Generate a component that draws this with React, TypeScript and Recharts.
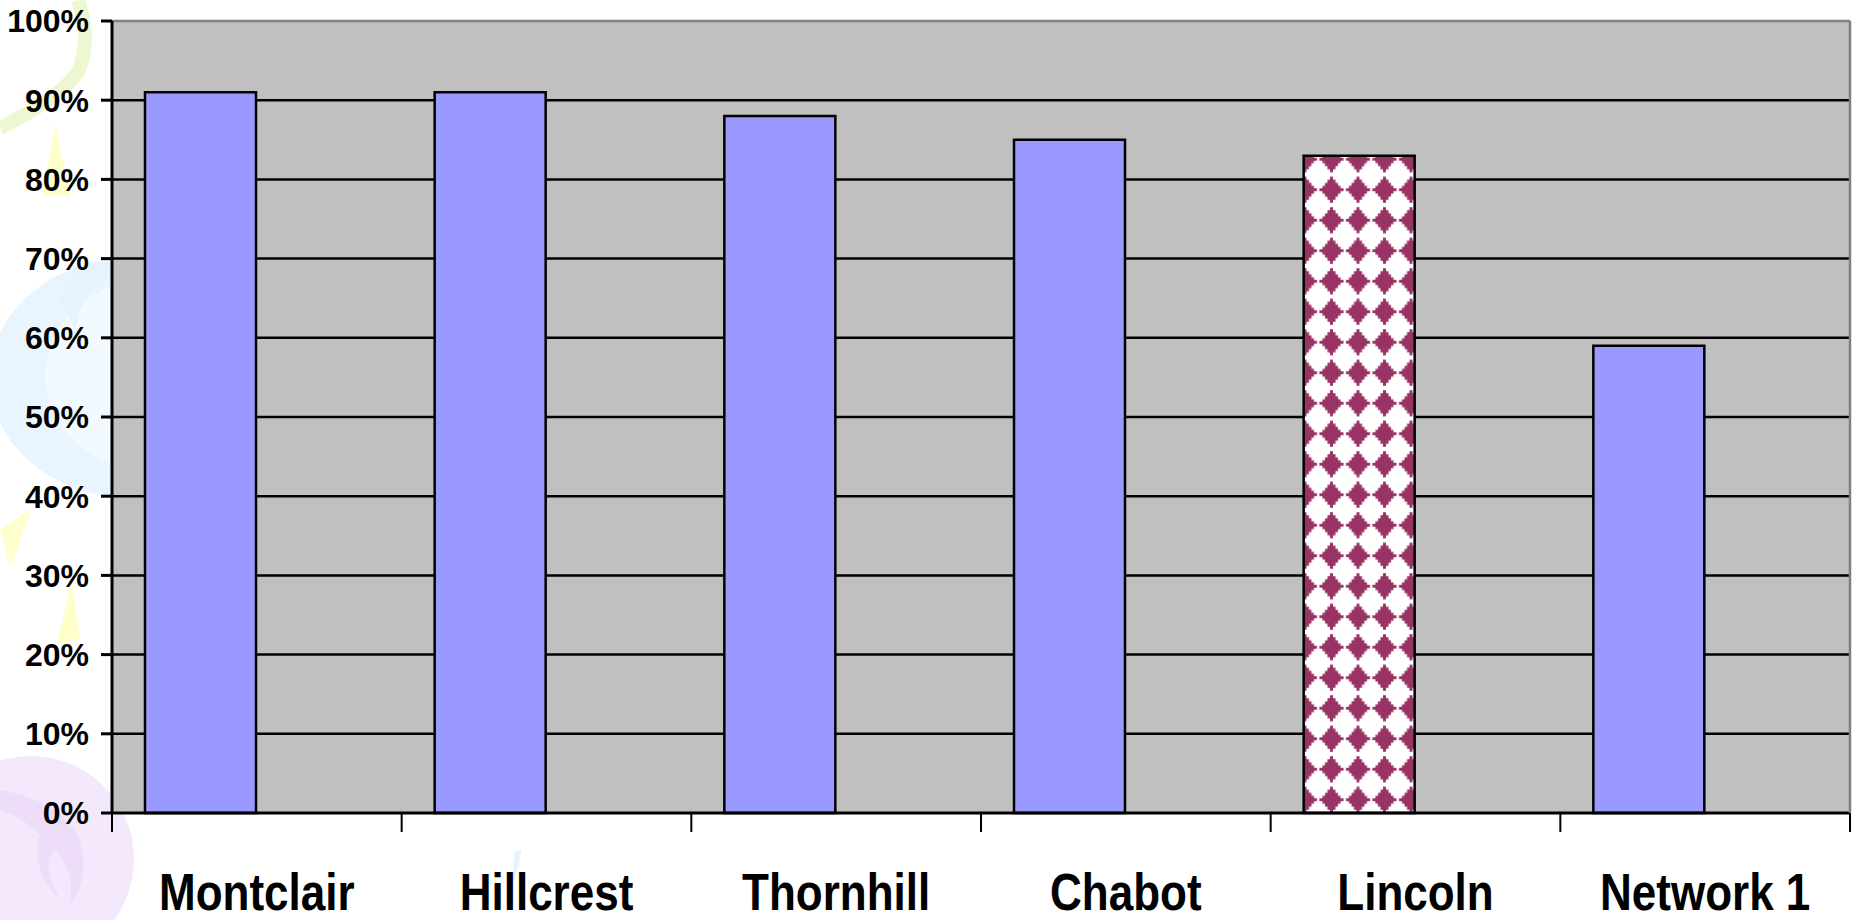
import React from 'react';
import { BarChart, Bar, XAxis, YAxis, CartesianGrid, Cell } from 'recharts';

// ---- data ----
const categories = ['Montclair', 'Hillcrest', 'Thornhill', 'Chabot', 'Lincoln', 'Network 1'];
const values = [91, 91, 88, 85, 83, 59];
const yTicks = [0, 10, 20, 30, 40, 50, 60, 70, 80, 90, 100];
const gridValues = [10, 20, 30, 40, 50, 60, 70, 80, 90];
const highlighted = 'Lincoln';

const data = categories.map((name, i) => ({ name, value: values[i] }));

const FONT = '"Liberation Sans", Arial, sans-serif';
const W = 1853;
const H = 920;

const XTick = (props: any) => {
  const { x, y, payload, index } = props;
  const half = payload && typeof payload.offset === 'number' ? payload.offset : 0;
  return (
    <g>
      <line x1={x - half} x2={x - half} y1={y} y2={y + 19} stroke="#000" strokeWidth={2} />
      {index === categories.length - 1 && (
        <line x1={x + half} x2={x + half} y1={y} y2={y + 19} stroke="#000" strokeWidth={2} />
      )}
      <text
        transform={`translate(${x},${y + 97}) scale(1,1.16)`}
        textAnchor="middle"
        fontSize={44}
        fontWeight={700}
        fontFamily={FONT}
        fill="#000"
      >
        {payload.value}
      </text>
    </g>
  );
};

const diamond =
  'M-1.5,-13 L1.5,-13 L1.5,-10 L4,-10 L4,-7 L6.5,-7 L6.5,-4 L9,-4 L9,-1.5 L12,-1.5 L12,1.5 L9,1.5 L9,4 L6.5,4 L6.5,7 L4,7 L4,10 L1.5,10 L1.5,13 L-1.5,13 L-1.5,10 L-4,10 L-4,7 L-6.5,7 L-6.5,4 L-9,4 L-9,1.5 L-12,1.5 L-12,-1.5 L-9,-1.5 L-9,-4 L-6.5,-4 L-6.5,-7 L-4,-7 L-4,-10 L-1.5,-10 Z';

const Decor = () => (
  <svg width={W} height={H} style={{ position: 'absolute', left: 0, top: 0 }}>
    <defs>
      <pattern id="lincolnPattern" patternUnits="userSpaceOnUse" x={19.75} y={22} width={26.5} height={30.5}>
        <rect x={0} y={0} width={26.5} height={30.5} fill="#FFFFFF" />
        <path d={diamond} transform="translate(13.25,15.25)" fill="#993366" />
      </pattern>
    </defs>
    {/* light blue swirl circle */}
    <ellipse cx={130} cy={378} rx={140} ry={120} fill="#E8F4FE" />
    <ellipse cx={150} cy={375} rx={105} ry={95} fill="#F2F9FF" />
    <path d="M60,300 Q70,250 120,270 Q80,290 75,330 Z" fill="#E6F2FD" />
    {/* lavender circle */}
    <circle cx={31} cy={859} r={103} fill="#F4E9FC" />
    <path d="M0,790 Q60,800 80,840 Q90,880 70,905 Q75,870 55,850 Q40,860 60,900 Q30,870 40,835 Q20,815 0,810 Z" fill="#EEDDF9" />
    {/* green swirl */}
    <path d="M78,0 Q92,40 78,72 Q60,98 0,128" stroke="#EDF8D3" strokeWidth={14} fill="none" />
    {/* yellow triangles */}
    <polygon points="55,123 43,195 70,197" fill="#FFFFCC" />
    <polygon points="32,508 0,530 10,567" fill="#FFFFCC" />
    <polygon points="72,580 80,640 57,643" fill="#FFFFCC" />
    {/* small blue stroke */}
    <path d="M514,852 L522,850 L517,870 L513,885 Z" fill="#E6F2FE" />
  </svg>
);

export default function App() {
  return (
    <div style={{ position: 'relative', width: W, height: H, fontFamily: FONT, background: '#fff' }}>
      <style>{'body{margin:0;}'}</style>
      <Decor />
      <div style={{ position: 'absolute', left: 0, top: 0 }}>
        <BarChart
          width={W}
          height={H}
          data={data}
          margin={{ top: 0, right: 0, bottom: 0, left: 0 }}
          barCategoryGap={33}
          barGap={2}
        >
          <CartesianGrid
            vertical={false}
            horizontalValues={gridValues}
            stroke="#000"
            strokeWidth={2.5}
            fill="#C0C0C0"
            fillOpacity={1}
          />
          <XAxis
            xAxisId="top"
            orientation="top"
            dataKey="name"
            height={21}
            tick={false}
            tickLine={false}
            axisLine={{ stroke: '#808080', strokeWidth: 2.5 }}
          />
          <XAxis
            dataKey="name"
            height={107}
            interval={0}
            tickSize={0}
            tickMargin={0}
            tickLine={false}
            axisLine={{ stroke: '#000', strokeWidth: 3 }}
            tick={<XTick />}
          />
          <YAxis
            width={112}
            domain={[0, 100]}
            ticks={yTicks}
            interval={0}
            tickSize={11}
            tickMargin={12}
            tickFormatter={(v: number) => `${v}%`}
            axisLine={{ stroke: '#000', strokeWidth: 3 }}
            tickLine={{ stroke: '#000', strokeWidth: 3 }}
            tick={{ fill: '#000', fontSize: 32, fontWeight: 700, fontFamily: FONT }}
          />
          <YAxis
            yAxisId="right"
            orientation="right"
            width={3}
            domain={[0, 100]}
            tick={false}
            tickLine={false}
            axisLine={{ stroke: '#808080', strokeWidth: 2.5 }}
          />
          <Bar dataKey="value" fill="#9999FF" stroke="#000" strokeWidth={2.5} isAnimationActive={false}>
            {data.map((d) => (
              <Cell key={d.name} fill={d.name === highlighted ? 'url(#lincolnPattern)' : '#9999FF'} />
            ))}
          </Bar>
          <Bar dataKey="spacer" fill="none" stroke="none" isAnimationActive={false} />
        </BarChart>
      </div>
    </div>
  );
}
